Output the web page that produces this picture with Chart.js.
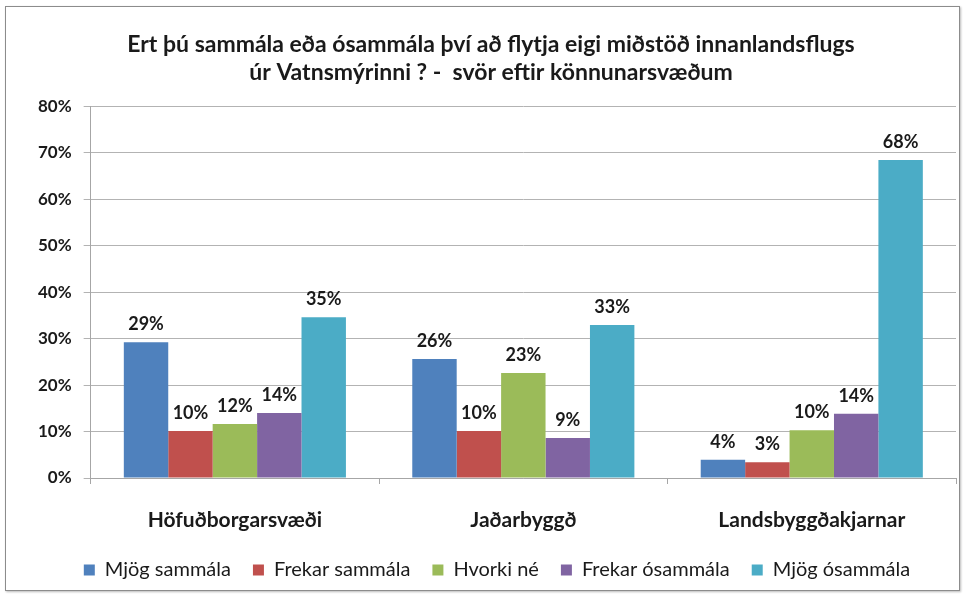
<!DOCTYPE html>
<html>
<head>
<meta charset="utf-8">
<script src="https://cdn.jsdelivr.net/npm/chart.js@4"></script>
<style>
  html, body { margin: 0; padding: 0; background: #fff; }
  #frame { position: absolute; left: 5px; top: 6px; width: 953px; height: 583px; border: 1px solid #8c8c8c; box-shadow: 1px 1px 2px #bbb; }
  #wrap { position: absolute; left: 0; top: 0; width: 967px; height: 597px; }
</style>
</head>
<body>
<div id="frame"></div>
<div id="wrap"><canvas id="chart" width="967" height="597"></canvas></div>
<script>
// survey answers by area, percent
const categories = ["Höfuðborgarsvæði", "Jaðarbyggð", "Landsbyggðakjarnar"];
const seriesNames = ["Mjög sammála", "Frekar sammála", "Hvorki né", "Frekar ósammála", "Mjög ósammála"];
const mjogSammala = [29.2, 25.6, 3.9];
const frekarSammala = [10.1, 10.1, 3.4];
const hvorkiNe = [11.6, 22.6, 10.3];
const frekarOsammala = [14.0, 8.6, 13.8];
const mjogOsammala = [34.6, 32.9, 68.4];
const yTicks = [0, 10, 20, 30, 40, 50, 60, 70, 80];
const colors = ["#4F81BD", "#C0504D", "#9BBB59", "#8064A2", "#4BACC6"];

const FONT = "Lato, 'Open Sans', sans-serif";

// draws the rounded percent above every bar
const valueLabels = {
  id: "valueLabels",
  afterDatasetsDraw(chart) {
    const ctx = chart.ctx;
    ctx.save();
    ctx.font = "bold 18px " + FONT;
    ctx.fillStyle = "#1a1a1a";
    ctx.textAlign = "center";
    ctx.textBaseline = "bottom";
    chart.data.datasets.forEach((ds, i) => {
      chart.getDatasetMeta(i).data.forEach((bar, j) => {
        ctx.fillText(Math.round(ds.data[j]) + "%", bar.x, bar.y - 9);
      });
    });
    ctx.restore();
  }
};

// nudge the legend a bit right of centre and down, like the original
const legendShift = {
  id: "legendShift",
  afterLayout(chart) {
    const lg = chart.legend;
    lg.left += 6;
    lg.right += 6;
    lg.top += 3;
    lg.bottom += 3;
  }
};

const seriesData = [mjogSammala, frekarSammala, hvorkiNe, frekarOsammala, mjogOsammala];

new Chart(document.getElementById("chart"), {
  type: "bar",
  data: {
    labels: categories,
    datasets: seriesNames.map((name, i) => ({
      label: name,
      data: seriesData[i],
      backgroundColor: colors[i],
      borderWidth: 0,
      barPercentage: 1.0,
      categoryPercentage: 0.77
    }))
  },
  options: {
    responsive: false,
    animation: false,
    devicePixelRatio: 1,
    layout: { padding: { left: 26, right: 11, top: 31, bottom: 10 } },
    plugins: {
      title: {
        display: true,
        text: ["Ert þú sammála eða ósammála því að flytja eigi miðstöð innanlandsflugs", "úr Vatnsmýrinni ? -  svör eftir könnunarsvæðum"],
        font: { family: FONT, size: 23, weight: "bold" },
        color: "#1a1a1a",
        lineHeight: 1.26,
        padding: { top: 0, bottom: 20 }
      },
      legend: {
        position: "bottom",
        labels: {
          font: { family: FONT, size: 20 },
          color: "#1a1a1a",
          boxWidth: 11,
          boxHeight: 11,
          padding: 22
        }
      },
      tooltip: { enabled: false }
    },
    scales: {
      x: {
        grid: { drawOnChartArea: false, color: "#a6a6a6", tickLength: 6 },
        border: { color: "#a6a6a6" },
        ticks: { font: { family: FONT, size: 21, weight: "bold" }, color: "#1a1a1a", padding: 24, maxRotation: 0 },
        afterFit(scale) { scale.height = 57; }
      },
      y: {
        min: 0,
        max: 80,
        afterBuildTicks(axis) { axis.ticks = yTicks.map(v => ({ value: v })); },
        grid: { color: "#b3b3b3", tickLength: 7 },
        border: { color: "#a6a6a6" },
        ticks: {
          font: { family: FONT, size: 17, weight: "bold" },
          color: "#1a1a1a",
          padding: 12,
          callback: v => v + "%"
        }
      }
    }
  },
  plugins: [valueLabels, legendShift]
});
</script>
</body>
</html>
